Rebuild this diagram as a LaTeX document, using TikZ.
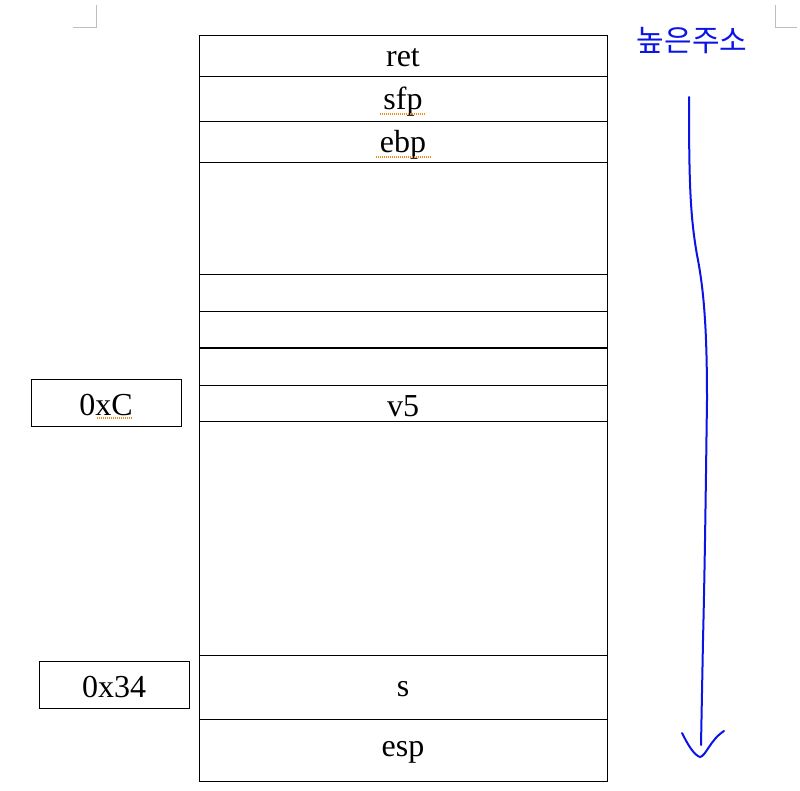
\documentclass[tikz,border=0pt]{standalone}
\usepackage{fontspec}
\setmainfont{Liberation Serif}
\newfontfamily\krfont{Noto Sans CJK KR}
\begin{document}
\begin{tikzpicture}[x=1pt,y=-1pt,
  cell/.style={draw=black,line width=1pt},
  lbl/.style={font=\fontsize{32}{34}\selectfont,inner sep=0pt},
  spell/.style={draw={rgb,255:red,240;green,140;blue,30},line width=1.2pt,dash pattern=on 1pt off 1pt},
  corner/.style={draw={rgb,255:red,190;green,190;blue,190},line width=1pt},
  pen/.style={draw={rgb,255:red,10;green,20;blue,230},line width=2pt,line cap=round,line join=round}]
\useasboundingbox (0,0) rectangle (800,791);
\fill[white] (0,0) rectangle (800,791);
% corner marks
\draw[corner] (73,28) -- (96,28) -- (96,5);
\draw[corner] (797,28) -- (775,28) -- (775,5);
% stack cells
\draw[cell] (199,36) rectangle (607,781);
\foreach \yy in {77,122,163,275,312,348,385,421,655,719}
  \draw[cell] (199,\yy) -- (607,\yy);
\node[lbl] (ret) at (403,58) {ret};
\node[lbl] (sfp) at (403,102) {sfp};
\node[lbl] (ebp) at (403,145) {ebp};
\node[lbl] (v5) at (403,406) {v5};
\node[lbl] (s) at (403,689) {s};
\node[lbl] (esp) at (403,752) {esp};
% side boxes
\draw[cell] (31,379) rectangle (181,426);
\node[lbl] (c) at (106,405) {0xC};
\draw[cell] (39,661) rectangle (189,708);
\node[lbl] (t) at (114,687) {0x34};
% spell-check underlines
\draw[spell] (380,114) -- (426,114);
\draw[spell] (376,157) -- (432,157);
\draw[spell] (97,418) -- (133,418);
% handwriting
\node[font=\krfont\fontsize{30}{32}\selectfont,text={rgb,255:red,10;green,20;blue,230},inner sep=0pt] (hi) at (692,41) {높은주소};
\coordinate (a0) at (689,97);
\coordinate (a1) at (701,745);
\draw[pen] (a0) .. controls (689,180) and (690,215) .. (697,255)
  .. controls (704,290) and (707,330) .. (707,400)
  .. controls (706,470) and (705,560) .. (703,640)
  -- (a1);
\draw[pen] (682,733) .. controls (688,745) and (694,755) .. (700,757)
  .. controls (706,756) and (710,740) .. (724,731);
\end{tikzpicture}
\end{document}
